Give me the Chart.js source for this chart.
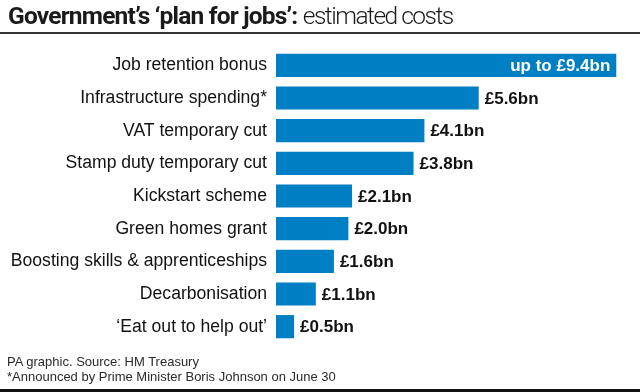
<!DOCTYPE html>
<html>
<head>
<meta charset="utf-8">
<script src="https://cdn.jsdelivr.net/npm/chart.js@4.4.0/dist/chart.umd.min.js"></script>
<style>
  html, body { margin: 0; padding: 0; background: #fff; }
  #wrap { position: relative; width: 640px; height: 392px; overflow: hidden; font-family: "Liberation Sans", Arial, sans-serif; }
  #canvas { position: absolute; left: 0; top: 0; }
  #title { position: absolute; left: 8px; top: 1px; font-family: Roboto, "Liberation Sans", sans-serif; font-size: 24.5px; color: #1a1a1a; letter-spacing: -0.8px; white-space: nowrap; }
  #title b { font-weight: bold; }
  #title span { font-weight: 300; letter-spacing: -1.5px; }
  #rule { position: absolute; left: 0; top: 32px; width: 640px; height: 2px; background: #333; }
  #foot { position: absolute; left: 7px; top: 354px; font-size: 13px; line-height: 15px; color: #2a2a2a; white-space: nowrap; }
  #bottom { position: absolute; left: 0; top: 389px; width: 640px; height: 3px; background: #111; }
</style>
</head>
<body>
<div id="wrap">
  <canvas id="canvas" width="640" height="392"></canvas>
  <div id="title"><b>Government’s ‘plan for jobs’:</b> <span>estimated costs</span></div>
  <div id="rule"></div>
  <div id="foot">PA graphic. Source: HM Treasury<br>*Announced by Prime Minister Boris Johnson on June 30</div>
  <div id="bottom"></div>
</div>
<script>
const categories = [
    "Job retention bonus",
    "Infrastructure spending*",
    "VAT temporary cut",
    "Stamp duty temporary cut",
    "Kickstart scheme",
    "Green homes grant",
    "Boosting skills & apprenticeships",
    "Decarbonisation",
    "‘Eat out to help out’"
];
const costs = [9.4, 5.6, 4.1, 3.8, 2.1, 2.0, 1.6, 1.1, 0.5];
const valueLabels = ["up to £9.4bn", "£5.6bn", "£4.1bn", "£3.8bn", "£2.1bn", "£2.0bn", "£1.6bn", "£1.1bn", "£0.5bn"];

const barBlue = "rgb(0, 127, 196)";

// value text at the end of each bar (first one sits inside, in white)
const valueText = {
    id: "valueText",
    afterDatasetsDraw(chart) {
        const ctx = chart.ctx;
        const meta = chart.getDatasetMeta(0);
        ctx.save();
        ctx.font = "bold 17px 'Liberation Sans', Arial, sans-serif";
        ctx.textBaseline = "middle";
        meta.data.forEach((bar, i) => {
            if (i === 0) {
                ctx.fillStyle = "#fff";
                ctx.textAlign = "right";
                ctx.fillText(valueLabels[i], bar.x - 6, bar.y + 1);
            } else {
                ctx.fillStyle = "#111";
                ctx.textAlign = "left";
                ctx.fillText(valueLabels[i], bar.x + 6, bar.y + 1);
            }
        });
        ctx.restore();
    }
};

const canvas = document.getElementById("canvas");

const chart = new Chart(canvas, {
    type: "bar",
    data: {
        labels: categories,
        datasets: [{
            data: costs,
            backgroundColor: barBlue,
            borderWidth: 0,
            barPercentage: 0.71,
            categoryPercentage: 1
        }]
    },
    options: {
        indexAxis: "y",
        responsive: false,
        animation: false,
        events: [],
        layout: { padding: { top: 49, bottom: 49, left: 0, right: 2 } },
        plugins: {
            legend: { display: false },
            tooltip: { enabled: false }
        },
        scales: {
            x: {
                display: false,
                min: 0,
                max: 10
            },
            y: {
                grid: { display: false, drawTicks: false },
                border: { display: false },
                ticks: {
                    color: "#111",
                    padding: 9,
                    font: { family: "'Liberation Sans', Arial, sans-serif", size: 17.6 }
                },
                afterFit: (scale) => { scale.width = 276; }
            }
        }
    },
    plugins: [valueText]
});
</script>
</body>
</html>
